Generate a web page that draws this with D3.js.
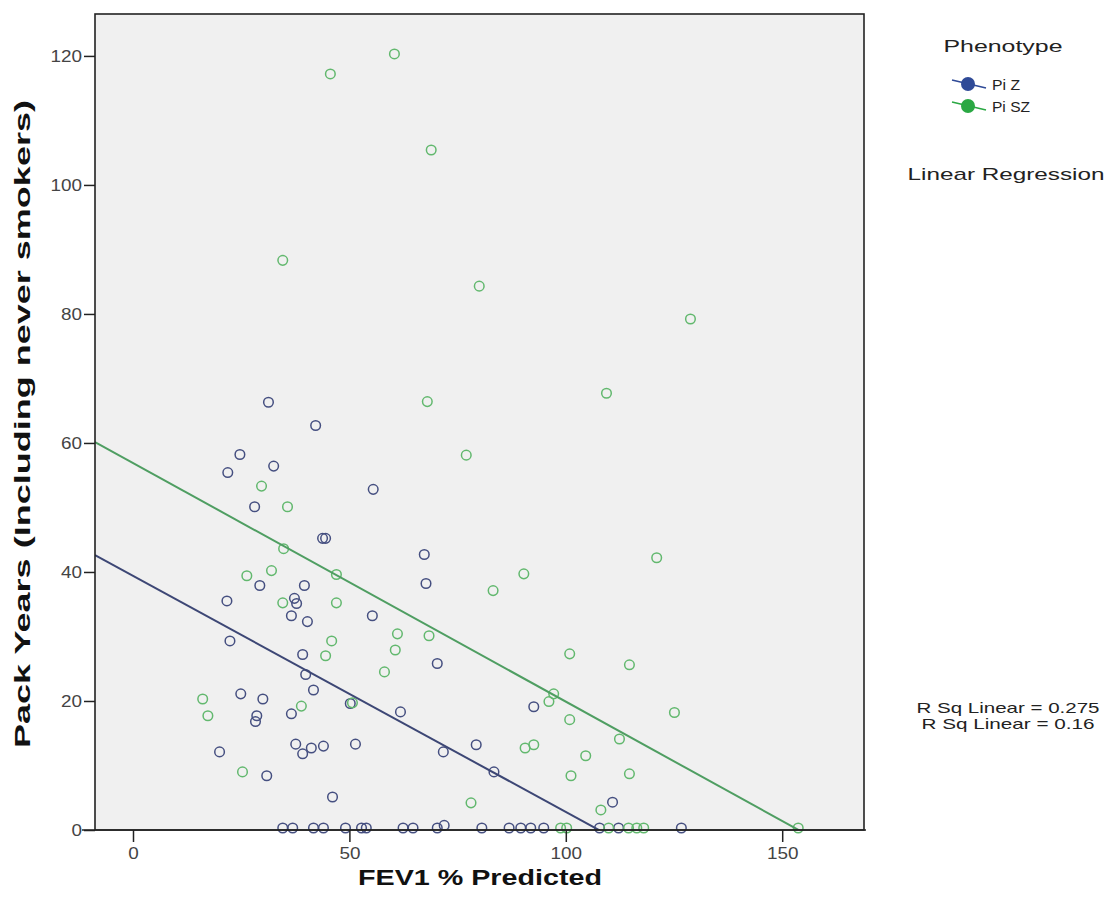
<!DOCTYPE html>
<html>
<head>
<meta charset="utf-8">
<script src="https://cdn.jsdelivr.net/npm/d3@7"></script>
<style>
  body { margin: 0; background: #fff; }
  svg { font-family: "Liberation Sans", Arial, sans-serif; }
</style>
</head>
<body>
<svg id="chart" width="1108" height="917"></svg>
<script>
// Pi Z points: FEV1 % predicted, pack years
var zFev = [31.3, 42.2, 24.7, 21.9, 32.5, 28.1, 55.5, 44.5, 43.8, 67.3,
  29.3, 39.6, 21.7, 37.3, 37.8, 36.6, 40.3, 55.3, 67.7, 22.4,
  39.2, 39.9, 41.7, 70.3, 61.8, 71.7, 24.9, 30.0, 28.6, 28.3,
  36.6, 20.0, 30.9, 37.6, 39.2, 41.2, 44.0, 51.4, 46.1, 92.6,
  79.3, 83.4, 110.8, 50.2,
  34.6, 36.9, 41.7, 44.0, 49.1, 52.8, 53.9, 62.4, 64.7, 70.3,
  71.9, 80.6, 86.9, 89.6, 91.9, 94.9, 107.8, 112.2, 126.7];
var zPack = [66.0, 62.4, 57.9, 55.1, 56.1, 49.8, 52.5, 44.9, 44.9, 42.4,
  37.6, 37.6, 35.2, 35.6, 34.8, 32.9, 32.0, 32.9, 37.9, 29.0,
  26.9, 23.8, 21.4, 25.5, 18.0, 11.8, 20.8, 20.0, 17.4, 16.5,
  17.7, 11.8, 8.1, 13.0, 11.5, 12.4, 12.7, 13.0, 4.8, 18.8,
  12.9, 8.7, 4.0, 19.3,
  0, 0, 0, 0, 0, 0, 0, 0, 0, 0,
  0.4, 0, 0, 0, 0, 0, 0, 0, 0];

// Pi SZ points
var szFev = [60.4, 45.6, 68.9, 34.6, 80.0, 128.8, 109.4, 68.0, 77.0, 121.0,
  90.3, 83.2, 29.7, 35.7, 34.8, 26.3, 32.0, 47.0, 34.6, 47.0,
  45.9, 44.5, 61.1, 60.6, 68.4, 58.1, 50.7, 38.9, 16.1, 17.3,
  25.3, 100.9, 114.7, 97.2, 96.1, 100.9, 125.1, 112.4, 90.6, 92.6,
  104.6, 101.2, 114.7, 108.1, 78.1,
  98.8, 100.2, 109.9, 114.5, 116.4, 118.0, 153.7];
var szPack = [120.0, 116.9, 105.1, 88.0, 84.0, 78.9, 67.4, 66.1, 57.8, 41.9,
  39.4, 36.8, 53.0, 49.8, 43.3, 39.1, 39.9, 39.3, 34.9, 34.9,
  29.0, 26.7, 30.1, 27.6, 29.8, 24.2, 19.4, 18.9, 20.0, 17.4,
  8.7, 27.0, 25.3, 20.8, 19.6, 16.8, 17.9, 13.8, 12.4, 12.9,
  11.2, 8.1, 8.4, 2.8, 3.9,
  0, 0, 0, 0, 0, 0, 0];

// fit lines: [intercept, slope]
var zFit = [39.4, -0.366];
var szFit = [56.9, -0.370];
var rSqLabels = ['R Sq Linear = 0.275', 'R Sq Linear = 0.16'];

var xTicks = [0, 50, 100, 150];
var yTicks = [0, 20, 40, 60, 80, 100, 120];
var phenotypes = ['Pi Z', 'Pi SZ'];

var colors = {
  z: '#454f80', sz: '#62b86e',
  zLine: '#3d4775', szLine: '#4f9e62',
  zKey: '#2f4a97', szKey: '#2aa843'
};

var svg = d3.select('#chart');
var plot = { left: 95, top: 14, right: 864, bottom: 830 };

var x = d3.scaleLinear().domain([-8.78, 168.9]).range([plot.left, plot.right]);
var y = d3.scaleLinear().domain([0, 126.5]).range([plot.bottom, plot.top]);

svg.append('rect')
  .attr('x', plot.left).attr('y', plot.top)
  .attr('width', plot.right - plot.left)
  .attr('height', plot.bottom - plot.top)
  .attr('fill', '#f0f0f0');

svg.append('clipPath').attr('id', 'clip')
  .append('rect')
  .attr('x', plot.left).attr('y', plot.top)
  .attr('width', plot.right - plot.left)
  .attr('height', plot.bottom - plot.top);

function drawPoints(xs, ys, color) {
  svg.append('g')
    .selectAll('circle')
    .data(xs.map(function(v, i) { return [v, ys[i]]; }))
    .enter()
    .append('circle')
    .attr('cx', function(d) { return x(d[0]); })
    .attr('cy', function(d) { return y(d[1]) - 2; })
    .attr('r', 4.8)
    .attr('fill', 'none')
    .attr('stroke', color)
    .attr('stroke-width', 1.5);
}

drawPoints(zFev, zPack, colors.z);
drawPoints(szFev, szPack, colors.sz);

function drawFit(fit, color) {
  var line = d3.line()
    .x(function(d) { return x(d); })
    .y(function(d) { return y(fit[0] + fit[1] * d); });
  svg.append('path')
    .datum(x.domain())
    .attr('clip-path', 'url(#clip)')
    .attr('fill', 'none')
    .attr('stroke', color)
    .attr('stroke-width', 2)
    .attr('d', line);
}

drawFit(szFit, colors.szLine);
drawFit(zFit, colors.zLine);

// frame
svg.append('rect')
  .attr('x', plot.left).attr('y', plot.top)
  .attr('width', plot.right - plot.left)
  .attr('height', plot.bottom - plot.top)
  .attr('fill', 'none')
  .attr('stroke', '#222')
  .attr('stroke-width', 1.6);

var xAxis = d3.axisBottom(x).tickValues(xTicks).tickSize(12).tickPadding(6);
var yAxis = d3.axisLeft(y).tickValues(yTicks).tickSize(11).tickPadding(2);

var gx = svg.append('g')
  .attr('transform', 'translate(0,' + plot.bottom + ')')
  .call(xAxis);
gx.select('.domain').attr('d', 'M' + (plot.left - 13) + ',0H' + (plot.right + 2));

var gy = svg.append('g')
  .attr('transform', 'translate(' + plot.left + ',0)')
  .call(yAxis);
gy.select('.domain').remove();

svg.selectAll('.tick line').attr('stroke', '#222').attr('stroke-width', 1.5);
svg.selectAll('.domain').attr('stroke', '#222').attr('stroke-width', 1.6);
// the picture is stretched sideways, so widen text to match
svg.selectAll('.tick text')
  .attr('font-family', '"Liberation Sans", Arial, sans-serif')
  .attr('font-size', 16)
  .attr('fill', '#444')
  .attr('lengthAdjust', 'spacingAndGlyphs')
  .attr('textLength', function(d) { return String(d).length * 10.5; });

// axis titles
svg.append('text')
  .attr('x', 480).attr('y', 885)
  .attr('text-anchor', 'middle')
  .attr('font-size', 22).attr('font-weight', 'bold')
  .attr('fill', '#111')
  .attr('lengthAdjust', 'spacingAndGlyphs')
  .attr('textLength', 244)
  .text('FEV1 % Predicted');

svg.append('text')
  .attr('transform', 'translate(30,424) rotate(-90)')
  .attr('text-anchor', 'middle')
  .attr('font-size', 22).attr('font-weight', 'bold')
  .attr('fill', '#111')
  .attr('lengthAdjust', 'spacingAndGlyphs')
  .attr('textLength', 648)
  .text('Pack Years (Including never smokers)');

// legend
svg.append('text')
  .attr('x', 1003).attr('y', 52)
  .attr('text-anchor', 'middle')
  .attr('font-size', 17).attr('fill', '#222')
  .attr('lengthAdjust', 'spacingAndGlyphs')
  .attr('textLength', 119)
  .text('Phenotype');

var keyColors = [colors.zKey, colors.szKey];
var keyWidths = [28, 38];
var key = svg.append('g').selectAll('g')
  .data(phenotypes)
  .enter()
  .append('g')
  .attr('transform', function(d, i) { return 'translate(0,' + (84 + i * 22) + ')'; });

key.append('line')
  .attr('x1', 952).attr('y1', -4).attr('x2', 986).attr('y2', 4)
  .attr('stroke', function(d, i) { return keyColors[i]; })
  .attr('stroke-width', 1.5);
key.append('circle')
  .attr('cx', 968).attr('cy', 0).attr('r', 7)
  .attr('fill', function(d, i) { return keyColors[i]; });
key.append('text')
  .attr('x', 992).attr('y', 6)
  .attr('font-size', 15).attr('fill', '#222')
  .attr('lengthAdjust', 'spacingAndGlyphs')
  .attr('textLength', function(d, i) { return keyWidths[i]; })
  .text(function(d) { return d; });

svg.append('text')
  .attr('x', 1006).attr('y', 180)
  .attr('text-anchor', 'middle')
  .attr('font-size', 17).attr('fill', '#222')
  .attr('lengthAdjust', 'spacingAndGlyphs')
  .attr('textLength', 197)
  .text('Linear Regression');

var rSqWidths = [183, 173];
svg.append('g').selectAll('text')
  .data(rSqLabels)
  .enter()
  .append('text')
  .attr('x', 1008)
  .attr('y', function(d, i) { return 713 + i * 16; })
  .attr('text-anchor', 'middle')
  .attr('font-size', 15).attr('fill', '#222')
  .attr('lengthAdjust', 'spacingAndGlyphs')
  .attr('textLength', function(d, i) { return rSqWidths[i]; })
  .text(function(d) { return d; });
</script>
</body>
</html>
